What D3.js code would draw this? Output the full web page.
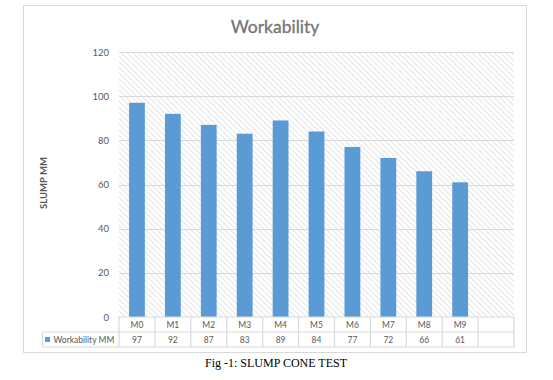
<!DOCTYPE html>
<html><head><meta charset="utf-8">
<script src="https://cdn.jsdelivr.net/npm/d3@7"></script>
<style>body{margin:0;background:#fff}svg{display:block}</style>
</head><body>
<svg id="c" width="553" height="380"></svg>
<script>
const categories = ["M0","M1","M2","M3","M4","M5","M6","M7","M8","M9",""];
const values = [97,92,87,83,89,84,77,72,66,61,null];
const yTicks = [0,20,40,60,80,100,120];
const seriesName = "Workability MM";
const title = "Workability";
const yLabel = "SLUMP MM";
const caption = "Fig -1: SLUMP CONE TEST";

const svg = d3.select("#c");
const font = "Lato, 'Open Sans', sans-serif";
const L = 119, R = 514, T = 52, B = 317;
const x = d3.scaleBand().domain(categories.map((d,i)=>i)).range([L,R]).padding(0);
const y = d3.scaleLinear().domain([0,120]).range([B,T]);

const defs = svg.append("defs");
const pat = defs.append("pattern").attr("id","hatch").attr("patternUnits","userSpaceOnUse")
  .attr("width",4).attr("height",4).attr("patternTransform","rotate(-45)");
pat.append("rect").attr("width",4).attr("height",4).attr("fill","#fff");
pat.append("line").attr("x1",0).attr("y1",0).attr("x2",0).attr("y2",4)
  .attr("stroke","#d6d6d6").attr("stroke-width",1.3);

// outer frame
svg.append("rect").attr("x",23.5).attr("y",5.5).attr("width",503).attr("height",347)
  .attr("fill","#fff").attr("stroke","#d9d9d9");

// plot hatch
svg.append("rect").attr("x",L).attr("y",T).attr("width",R-L).attr("height",B-T).attr("fill","url(#hatch)");

// gridlines
svg.append("g").selectAll("line").data(yTicks.filter(d=>d>0)).join("line")
  .attr("x1",L).attr("x2",R).attr("y1",d=>Math.round(y(d))+0.5).attr("y2",d=>Math.round(y(d))+0.5)
  .attr("stroke","#d9d9d9").attr("stroke-width",1.2);

// y axis labels
const yAxis = d3.axisLeft(y).tickValues(yTicks).tickSize(0).tickPadding(10);
const ga = svg.append("g").attr("transform",`translate(${L},0)`).call(yAxis);
ga.select(".domain").remove();
ga.selectAll("text").attr("font-family",font).attr("font-size",9.5).attr("fill","#595959");

// bars
const bw = x.bandwidth()*0.44;
svg.append("g").selectAll("rect").data(values.map((v,i)=>({v,i})).filter(d=>d.v!=null)).join("rect")
  .attr("x",d=>x(d.i)+x.bandwidth()/2-bw/2).attr("width",bw)
  .attr("y",d=>y(d.v)).attr("height",d=>y(0)-y(d.v)).attr("fill","#5B9BD5");

// data table
const rowH = 15, r1 = B, r2 = B+rowH, r3 = B+2*rowH, tl = 42.5;
const tg = svg.append("g").attr("stroke","#d9d9d9").attr("stroke-width",1.2).attr("fill","none");
tg.append("line").attr("x1",L).attr("x2",R).attr("y1",r1).attr("y2",r1);
tg.append("line").attr("x1",tl).attr("x2",R).attr("y1",r2).attr("y2",r2);
tg.append("line").attr("x1",tl).attr("x2",R).attr("y1",r3).attr("y2",r3);
tg.append("line").attr("x1",tl).attr("x2",tl).attr("y1",r2).attr("y2",r3);
tg.selectAll("line.v").data(d3.range(categories.length+1)).join("line").attr("class","v")
  .attr("x1",i=>i<categories.length? x(i):R).attr("x2",i=>i<categories.length? x(i):R)
  .attr("y1",r1).attr("y2",r3);

svg.append("g").selectAll("text").data(categories).join("text")
  .attr("x",(d,i)=>x(i)+x.bandwidth()/2).attr("y",r1+rowH/2+3)
  .attr("text-anchor","middle").attr("font-family",font).attr("font-size",8.5).attr("fill","#595959").text(d=>d);
svg.append("g").selectAll("text").data(values).join("text")
  .attr("x",(d,i)=>x(i)+x.bandwidth()/2).attr("y",r2+rowH/2+3)
  .attr("text-anchor","middle").attr("font-family",font).attr("font-size",8.5).attr("fill","#595959").text(d=>d==null?"":d);
svg.append("rect").attr("x",45).attr("y",r2+rowH/2-2.5).attr("width",5).attr("height",5).attr("fill","#5B9BD5");
svg.append("text").attr("x",53.5).attr("y",r2+rowH/2+3).attr("font-family",font).attr("font-size",8.5)
  .attr("fill","#595959").text(seriesName);

// title
svg.append("text").attr("x",275).attr("y",33).attr("text-anchor","middle").attr("font-family",font)
  .attr("font-size",17.5).attr("fill","#757575").attr("stroke","#757575").attr("stroke-width",0.3).text(title);

// y label
svg.append("text").attr("transform","translate(46.5,183) rotate(-90)").attr("text-anchor","middle")
  .attr("font-family",font).attr("font-size",9.5).attr("font-weight","bold").attr("fill","#595959").text(yLabel);

// caption
svg.append("text").attr("x",276).attr("y",367).attr("text-anchor","middle")
  .attr("font-family","'Liberation Serif','Times New Roman',serif").attr("font-size",12).attr("fill","#000").text(caption);
</script>
</body></html>
